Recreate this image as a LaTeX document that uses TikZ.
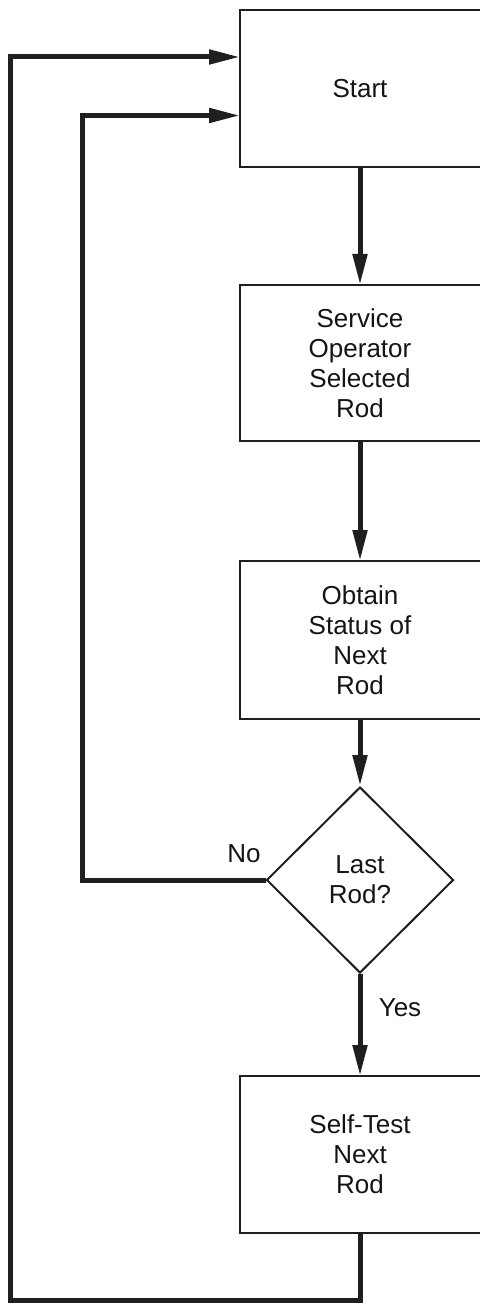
\documentclass[tikz,border=0pt]{standalone}
\usepackage{fontspec}
\setmainfont{Liberation Sans}
\usetikzlibrary{arrows.meta,shapes.geometric}
\begin{document}
\begin{tikzpicture}[x=1pt,y=-1pt,
  every node/.style={font=\fontsize{26}{30}\selectfont, text=black!92},
  stepbox/.style={rectangle, minimum width=238pt, inner sep=0pt, outer sep=1pt, align=center},
  boxline/.style={draw=black!88, line width=2pt},
  decision/.style={draw=black!88, line width=2pt, diamond, minimum width=187pt, minimum height=186pt, inner sep=0pt, align=center},
  flow/.style={draw=black!88, line width=5pt, line join=miter, -{Triangle[length=31pt,width=14pt]}}]
\useasboundingbox (0,0) rectangle (479,1305);
\node[stepbox, minimum height=155pt] (start) at (360,88.5) {Start};
\node[stepbox, minimum height=154pt] (service) at (360,363) {Service\\Operator\\Selected\\Rod};
\node[stepbox, minimum height=156pt] (obtain) at (360,640) {Obtain\\Status of\\Next\\Rod};
\node[decision] (dia) at (360,880) {Last\\Rod?};
\node[stepbox, minimum height=155pt] (self) at (360,1154.5) {Self-Test\\Next\\Rod};
\foreach \b in {start,service,obtain,self}
  \draw[boxline] ([xshift=20pt]\b.north east) -- (\b.north west) -- (\b.south west) -- ([xshift=20pt]\b.south east);
\node (no) at (244,854) {No};
\node (yes) at (400,1008) {Yes};
\coordinate (o1) at (10.5,1300);
\coordinate (o2) at (10.5,57);
\coordinate (i1) at (82.5,115.5);
\draw[flow] (start.south) -- (service.north);
\draw[flow] (service.south) -- (obtain.north);
\draw[flow] (obtain.south) -- (dia.north);
\draw[flow] (dia.south) -- (self.north);
\draw[flow] (self.south) |- (o1) -- (o2) -- (start.west |- o2);
\draw[flow] (dia.west) -| (i1) -- (start.west |- i1);
\end{tikzpicture}
\end{document}
